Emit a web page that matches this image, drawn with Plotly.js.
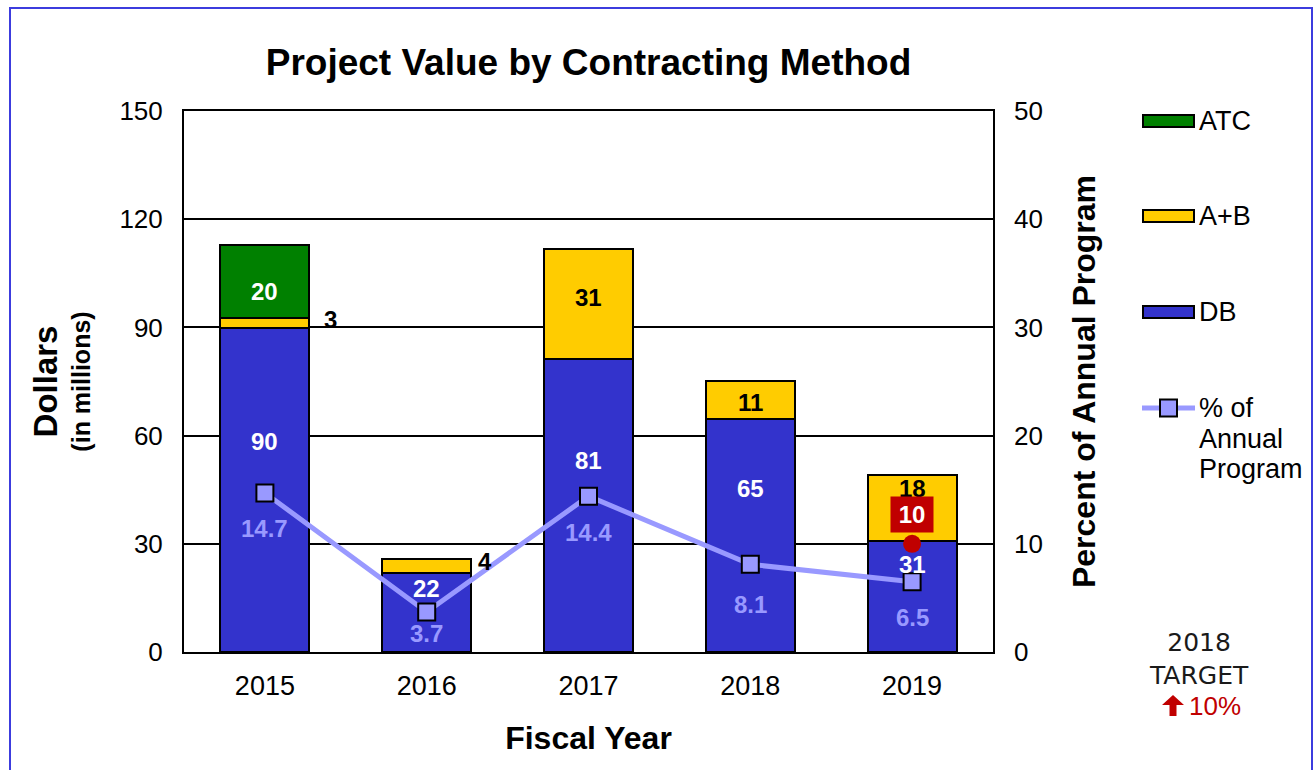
<!DOCTYPE html>
<html>
<head>
<meta charset="utf-8">
<script src="https://cdn.plot.ly/plotly-3.0.1.min.js"></script>
<style>
  html, body { margin: 0; padding: 0; background: #ffffff; }
  #wrap { position: relative; width: 1314px; height: 770px; overflow: hidden; }
  #chart { width: 1314px; height: 770px; }
  #frame { position: absolute; left: 9px; top: 7px; width: 1300px; height: 800px;
           border: 2px solid #3c3cde; pointer-events: none; }
</style>
</head>
<body>
<div id="wrap">
  <div id="chart"></div>
  <div id="frame"></div>
</div>
<script>
// ---- data ----
const years = ['2015', '2016', '2017', '2018', '2019'];
const dbValues  = [89.8, 21.9, 81.2, 64.6, 30.8];
const abValues  = [2.8, 3.9, 30.6, 10.6, 18.4];
const atcValues = [20.2, 0, 0, 0, 0];
const pctValues = [14.7, 3.7, 14.4, 8.1, 6.5];
const dbLabels  = ['90', '22', '81', '65', '31'];
const abLabels  = ['3', '4', '31', '11', '18'];
const atcLabels = ['20', '', '', '', ''];
const pctLabels = ['14.7', '3.7', '14.4', '8.1', '6.5'];
const targetYear = '2019';
const targetPct = 10;
const targetLabel = '10';
const targetNote = ['2018', 'TARGET', '10%'];
const legendNames = ['ATC', 'A+B', 'DB', '% of', 'Annual', 'Program'];

// ---- label placement (layout only) ----
const dbLabelY   = [58.5, 17.5, 53, 45.2, 24.4];     // left-axis units
const abLabelY   = [92.3, 25.2, 98.4, 69.3, 45.2];
const abLabelDX  = [66, 58, 0, 0, 0];
const atcLabelY  = [100, null, null, null, null];
const pctShift   = [-36, -22, -36, -40, -36];

(function () {
  const FONT = 'Liberation Sans, Arial, sans-serif';
  const DB_C = '#3333CC', AB_C = '#FFCC00', ATC_C = '#008000', PCT_C = '#9999FF', RED = '#C00000';

  // plot area in pixels
  const PL = 184, PR = 993, PT = 111, PB = 652;
  const fx = x => (x - PL) / (PR - PL);
  const fy = y => (PB - y) / (PB - PT);

  const traces = [
    { type: 'bar', name: 'DB', x: years, y: dbValues, marker: { color: DB_C, line: { color: '#000', width: 2 } },
      width: 0.55, showlegend: false },
    { type: 'bar', name: 'A+B', x: years, y: abValues, marker: { color: AB_C, line: { color: '#000', width: 2 } },
      width: 0.55, showlegend: false },
    { type: 'bar', name: 'ATC', x: years, y: atcValues, marker: { color: ATC_C, line: { color: '#000', width: 2 } },
      width: 0.55, showlegend: false },
    { type: 'scatter', mode: 'lines+markers', name: '% of Annual Program', x: years, y: pctValues, yaxis: 'y2',
      line: { color: PCT_C, width: 5 },
      marker: { symbol: 'square', size: 17, color: PCT_C, line: { color: '#000', width: 2 } }, showlegend: false },
    { type: 'scatter', mode: 'markers', name: '2018 Target', x: [targetYear], y: [targetPct], yaxis: 'y2',
      marker: { symbol: 'circle', size: 18, color: RED }, showlegend: false }
  ];

  const annotations = [];
  const LBL = 24;
  years.forEach((yr, i) => {
    // annotation x on a category axis = serial index of the category
    annotations.push({ x: i, y: dbLabelY[i], xref: 'x', yref: 'y', text: '<b>' + dbLabels[i] + '</b>',
      showarrow: false, font: { family: FONT, size: LBL, color: '#ffffff' } });
    annotations.push({ x: i, y: abLabelY[i], xref: 'x', yref: 'y', text: '<b>' + abLabels[i] + '</b>',
      xshift: abLabelDX[i], showarrow: false, font: { family: FONT, size: LBL, color: '#000000' } });
    if (atcLabels[i]) {
      annotations.push({ x: i, y: atcLabelY[i], xref: 'x', yref: 'y', text: '<b>' + atcLabels[i] + '</b>',
        showarrow: false, font: { family: FONT, size: LBL, color: '#ffffff' } });
    }
    annotations.push({ x: i, y: pctValues[i], xref: 'x', yref: 'y2', yshift: pctShift[i],
      text: '<b>' + pctLabels[i] + '</b>', showarrow: false, font: { family: FONT, size: LBL, color: PCT_C } });
  });
  // red target box
  annotations.push({ x: years.indexOf(targetYear), y: targetPct, xref: 'x', yref: 'y2', yshift: 29,
    text: '<b>' + targetLabel + '</b>', showarrow: false, bgcolor: RED, borderpad: 3,
    width: 36, height: 29,
    font: { family: FONT, size: LBL, color: '#ffffff' } });

  // custom legend
  const legendItems = [
    { name: legendNames[0], color: ATC_C, y: 121 },
    { name: legendNames[1], color: AB_C, y: 216 },
    { name: legendNames[2], color: DB_C, y: 312 }
  ];
  const shapes = [];
  const LEGF = 27;
  legendItems.forEach(it => {
    shapes.push({ type: 'rect', xref: 'paper', yref: 'paper', x0: fx(1143), x1: fx(1194), y0: fy(it.y - 6), y1: fy(it.y + 6),
      fillcolor: it.color, line: { color: '#000', width: 2 } });
    annotations.push({ xref: 'paper', yref: 'paper', x: fx(1197), y: fy(it.y), xanchor: 'left', yanchor: 'middle',
      text: it.name, showarrow: false, font: { family: FONT, size: LEGF, color: '#000' } });
  });
  shapes.push({ type: 'line', xref: 'paper', yref: 'paper', x0: fx(1142), x1: fx(1195), y0: fy(408), y1: fy(408),
    line: { color: PCT_C, width: 5 } });
  shapes.push({ type: 'rect', xref: 'paper', yref: 'paper', x0: fx(1160), x1: fx(1177), y0: fy(416.5), y1: fy(399.5),
    fillcolor: PCT_C, line: { color: '#000', width: 2 } });
  [408, 439, 469].forEach((yy, k) => {
    annotations.push({ xref: 'paper', yref: 'paper', x: fx(1197), y: fy(yy), xanchor: 'left', yanchor: 'middle',
      text: legendNames[3 + k], showarrow: false, font: { family: FONT, size: LEGF, color: '#000' } });
  });

  // target note
  const NOTEF = 'DejaVu Sans, sans-serif';
  annotations.push({ xref: 'paper', yref: 'paper', x: fx(1199), y: fy(658.5), xanchor: 'center', yanchor: 'middle',
    text: targetNote[0] + '<br>' + targetNote[1], showarrow: false,
    font: { family: NOTEF, size: 25, color: '#1a1a1a' } });
  annotations.push({ xref: 'paper', yref: 'paper', x: fx(1187), y: fy(706), xanchor: 'left', yanchor: 'middle',
    text: targetNote[2], showarrow: false, font: { family: FONT, size: 26, color: RED } });
  // red up-arrow
  const ax = 1173, ay0 = 695, ay1 = 716, hw = 11, sw = 3.5, hh = 10;
  const pt = (x, y) => fx(x) + ' ' + fy(y);
  shapes.push({ type: 'path', xref: 'paper', yref: 'paper', fillcolor: RED, line: { color: RED, width: 0 },
    path: 'M ' + pt(ax, ay0) + ' L ' + pt(ax + hw, ay0 + hh) + ' L ' + pt(ax + sw, ay0 + hh) +
          ' L ' + pt(ax + sw, ay1) + ' L ' + pt(ax - sw, ay1) + ' L ' + pt(ax - sw, ay0 + hh) +
          ' L ' + pt(ax - hw, ay0 + hh) + ' Z' });

  const layout = {
    width: 1314, height: 770,
    margin: { l: PL, r: 1314 - PR, t: PT, b: 770 - PB },
    paper_bgcolor: '#ffffff', plot_bgcolor: '#ffffff',
    barmode: 'stack',
    showlegend: false,
    font: { family: FONT, color: '#000' },
    title: { text: '<b>Project Value by Contracting Method</b>', x: 0.5, xref: 'paper', y: 1 - 62 / 770, yref: 'container',
      yanchor: 'middle', font: { family: FONT, size: 37, color: '#000' } },
    xaxis: {
      type: 'category', range: [-0.5, 4.5], autorange: false,
      showline: true, mirror: true, linecolor: '#000', linewidth: 2,
      ticks: '', tickfont: { family: FONT, size: 27, color: '#000' }, ticklabelstandoff: 9,
      title: { text: '<b>Fiscal Year</b>', font: { family: FONT, size: 32, color: '#000' }, standoff: 26 }
    },
    yaxis: {
      range: [0, 150], autorange: false, dtick: 30, tick0: 0,
      showline: true, mirror: true, linecolor: '#000', linewidth: 2,
      showgrid: true, gridcolor: '#000', gridwidth: 2, zeroline: false,
      ticks: '', tickfont: { family: FONT, size: 26, color: '#000' }, ticklabelstandoff: 14,
      title: { text: '<b><span style="font-size:33px">Dollars</span></b><br><b>(in millions)</b>',
        font: { family: FONT, size: 25, color: '#000' }, standoff: 22 }
    },
    yaxis2: {
      overlaying: 'y', side: 'right', range: [0, 50], autorange: false, dtick: 10, tick0: 0,
      showgrid: false, zeroline: false, showline: false,
      ticks: '', tickfont: { family: FONT, size: 26, color: '#000' }, ticklabelstandoff: 20,
      title: { text: '<b>Percent of Annual Program</b>', font: { family: FONT, size: 32, color: '#000' }, standoff: 30 }
    },
    annotations: annotations,
    shapes: shapes
  };

  Plotly.newPlot('chart', traces, layout, { displayModeBar: false, staticPlot: true });
})();
</script>
</body>
</html>
